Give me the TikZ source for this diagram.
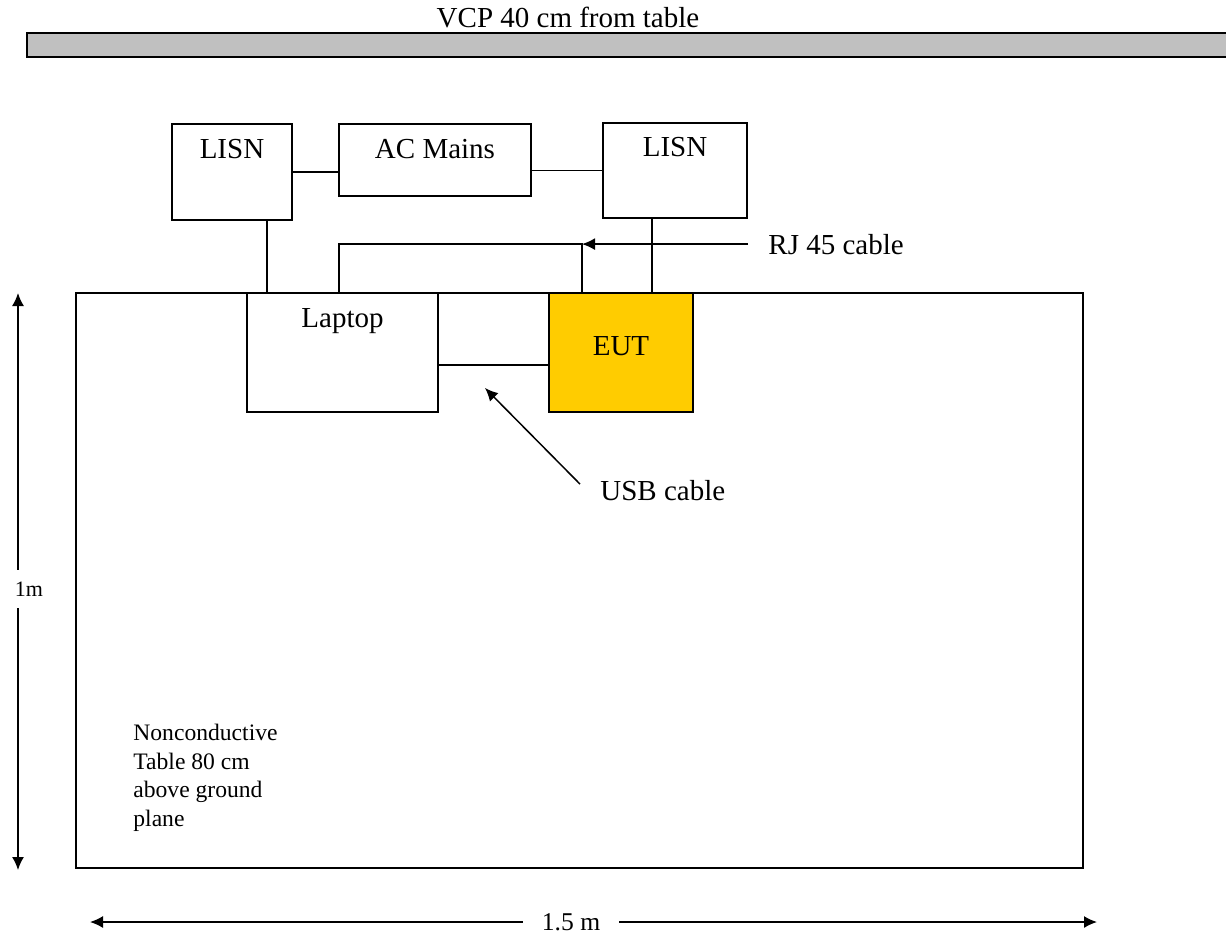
\documentclass[tikz,border=0pt]{standalone}
\usepackage{fontspec}
\setmainfont{Liberation Serif}
\usetikzlibrary{arrows.meta}
\definecolor{eutyellow}{HTML}{FFCC00}
\definecolor{vcpgray}{HTML}{C0C0C0}

\begin{document}
\begin{tikzpicture}[x=0.5pt, y=-0.5pt]
		\tikzstyle {unit} = [draw, line width=0.75pt, inner sep=0pt]
		\tikzstyle {cable} = [line width=0.75pt]
		\tikzstyle {pointer} = [line width=0.75pt, -{Latex[length=6.5pt,width=6pt]}]
		\tikzstyle {dimension} = [line width=0.75pt, {Latex[length=6.5pt,width=6pt]}-{Latex[length=6.5pt,width=6pt]}]
		\tikzstyle {caption} = [inner sep=0pt, font=\fontsize{14.5}{17}\selectfont]
		\tikzstyle {headline} = [caption, anchor=base]

		\useasboundingbox (0,0) rectangle (1226,934);

		% vertical coupling plane
		\draw[line width=1pt, fill=vcpgray] (27,33) rectangle (1240,57);
		\node[headline] (vcptext) at (568,27) {VCP 40 cm from table};

		% table and units
		\node[unit, minimum width=503.5pt, minimum height=287.5pt] (table) at (579.5,580.5) {};
		\node[unit, minimum width=60pt, minimum height=48pt, label={[headline, yshift=-17.5pt]north:LISN}] (lisnL) at (232,172) {};
		\node[unit, minimum width=96pt, minimum height=36pt, label={[headline, yshift=-17.5pt]north:AC Mains}] (mains) at (435,160) {};
		\node[unit, minimum width=72pt, minimum height=47.5pt, label={[headline, yshift=-17pt]north:LISN}] (lisnR) at (675,170.5) {};
		\node[unit, fill=white, minimum width=95.5pt, minimum height=59.5pt, label={[headline, yshift=-17.5pt]north:Laptop}] (laptop) at (342.5,352.5) {};
		\node[unit, fill=eutyellow, minimum width=72pt, minimum height=59.5pt, label={[headline, yshift=-31.5pt]north:EUT}] (eut) at (621,352.5) {};

		% power
		\draw[cable] (lisnL.east) -- (lisnL.east -| mains.west);
		\draw[cable] (lisnR.west -| mains.east) -- (lisnR.west);
		\draw[cable] ([xshift=17.5pt]lisnL.south) -- ([xshift=17.5pt]lisnL.south |- laptop.north);
		\draw[cable] ([xshift=-11.5pt]lisnR.south) -- ([xshift=-11.5pt]lisnR.south |- eut.north);

		% RJ 45
		\node[caption, anchor=base west] (rjtext) at (768,254) {RJ 45 cable};
		\coordinate (rjjoin) at ([xshift=-19.5pt]eut.north |- rjtext.west);
		\draw[cable] ([xshift=-1.75pt]laptop.north) |- (rjjoin) -- ([xshift=-19.5pt]eut.north);
		\draw[pointer] ([xshift=-10pt]rjtext.west) -- (rjjoin);

		% USB
		\draw[cable] ([yshift=-6.25pt]laptop.east) -- ([yshift=-6.25pt]laptop.east -| eut.west);
		\node[caption, anchor=base west] (usbtext) at (600,500) {USB cable};
		\coordinate (usbtip) at (485,388);
		\draw[pointer] ([shift={(-10pt,3pt)}]usbtext.west) -- (usbtip);

		\node[inner sep=0pt, anchor=north west, align=left, font=\fontsize{11.8}{14.25}\selectfont] (tablenote) at (133,724) {Nonconductive\\Table 80 cm\\above ground\\plane};

		% dimensions
		\coordinate (htop) at (18,293);
		\coordinate (hbot) at (18,870);
		\draw[dimension] (htop) -- (hbot);
		\node[fill=white, inner xsep=2pt, inner ysep=5.8pt, font=\fontsize{11}{13}\selectfont] (htext) at (29,589) {1m};

		\coordinate (wleft) at (90,922);
		\coordinate (wright) at (1097,922);
		\draw[dimension] (wleft) -- (wright);
		\node[fill=white, inner xsep=9.25pt, inner ysep=2pt, font=\fontsize{12.8}{15}\selectfont] (wtext) at (571,922) {1.5 m};
\end{tikzpicture}
\end{document}
